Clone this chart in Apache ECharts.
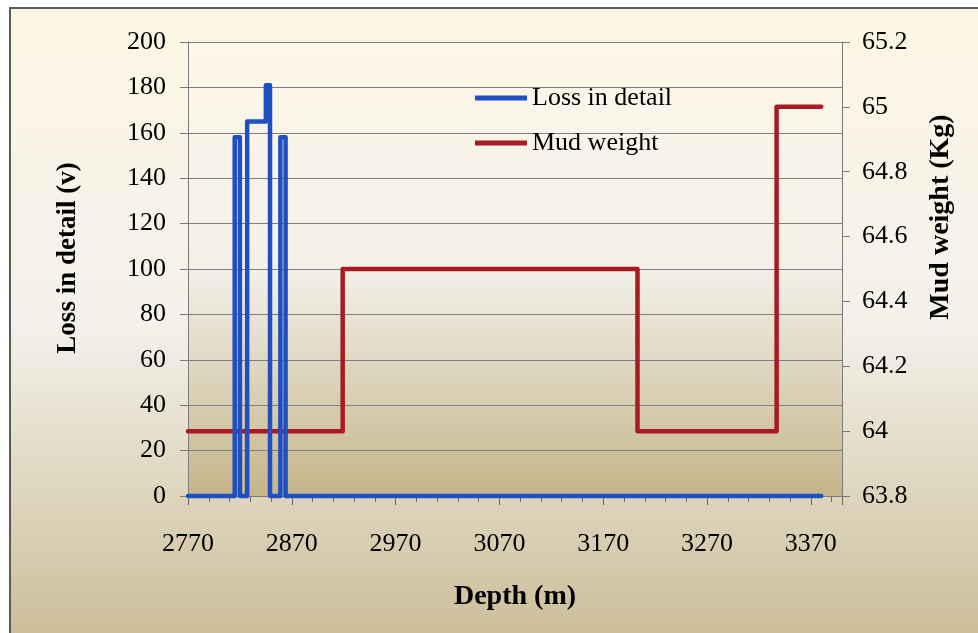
<!DOCTYPE html>
<html>
<head>
<meta charset="utf-8">
<script src="https://cdn.jsdelivr.net/npm/echarts@6/dist/echarts.min.js"></script>
<style>
html,body{margin:0;padding:0;background:#ffffff;}
#c{width:978px;height:633px;}
</style>
</head>
<body>
<div id="c"></div>
<script>
// Depth ticks / labels
const xTickLabels = [2770, 2870, 2970, 3070, 3170, 3270, 3370];
// Loss in detail (step trace)
const lossDepth = [2770, 2815, 2815, 2820, 2820, 2827, 2827, 2845, 2845, 2849, 2849, 2859, 2859, 2864, 2864, 3380];
const lossValue = [0, 0, 158, 158, 0, 0, 165, 165, 181, 181, 0, 0, 158, 158, 0, 0];
// Mud weight (step trace)
const mudDepth = [2770, 2919, 2919, 3203, 3203, 3337, 3337, 3380];
const mudValue = [64, 64, 64.5, 64.5, 64, 64, 65, 65];

const FONT = '"Liberation Serif", "Times New Roman", serif';

function pairs(xs, ys) { return xs.map((x, i) => [x, ys[i]]); }

const bgGrad = {
  type: 'linear', x: 0, y: 0, x2: 0, y2: 1,
  colorStops: [
    { offset: 0, color: '#fdf6e4' },
    { offset: 0.45, color: '#f3f1ea' },
    { offset: 1, color: '#c3b286' }
  ]
};
const plotGrad = {
  type: 'linear', x: 0, y: 0, x2: 0, y2: 1,
  colorStops: [
    { offset: 0, color: '#fdf7e8' },
    { offset: 0.5, color: '#f2f0e9' },
    { offset: 1, color: '#c5b58a' }
  ]
};

const chart = echarts.init(document.getElementById('c'), null, { renderer: 'canvas' });
chart.setOption({
  backgroundColor: '#ffffff',
  animation: false,
  graphic: [{
    type: 'rect', z: -10, silent: true,
    shape: { x: 10, y: 8, width: 1000, height: 700 },
    style: { fill: bgGrad, stroke: '#5a5a5a', lineWidth: 2 }
  }],
  grid: {
    left: 188, right: 136, top: 42, bottom: 137,
    show: true, backgroundColor: plotGrad, borderWidth: 0
  },
  legend: {
    orient: 'vertical', left: 470, top: 80, itemGap: 19,
    itemWidth: 52, itemHeight: 5, icon: 'rect',
    textStyle: { fontFamily: FONT, fontSize: 26, color: '#000' },
    data: ['Loss in detail', 'Mud weight']
  },
  xAxis: {
    type: 'value', min: 2770, max: 3400, interval: 100,
    name: 'Depth (m)', nameLocation: 'middle', nameGap: 87,
    nameTextStyle: { fontFamily: FONT, fontSize: 28, fontWeight: 'bold', color: '#000' },
    axisLine: { show: true, onZero: false, lineStyle: { color: '#7a7a7a', width: 1 } },
    axisTick: { show: true, length: 9, lineStyle: { color: '#6a6a6a' } },
    minorTick: { show: true, splitNumber: 5, length: 6, lineStyle: { color: '#6a6a6a' } },
    splitLine: { show: false },
    axisLabel: { fontFamily: FONT, fontSize: 26, color: '#000', margin: 35, showMaxLabel: false,
      formatter: v => (xTickLabels.indexOf(v) >= 0 ? String(v) : '') }
  },
  yAxis: [{
    type: 'value', min: 0, max: 200, interval: 20, position: 'left',
    name: 'Loss in detail (v)', nameLocation: 'middle', nameGap: 106, nameRotate: 90,
    nameTextStyle: { fontFamily: FONT, fontSize: 27, fontWeight: 'bold', color: '#000', padding: [0, 0, 0, 22] },
    axisLine: { show: true, lineStyle: { color: '#7a7a7a', width: 1 } },
    axisTick: { show: true, length: 8, lineStyle: { color: '#7a7a7a' } },
    splitLine: { show: true, lineStyle: { color: '#7f7f7f', width: 1 } },
    axisLabel: { fontFamily: FONT, fontSize: 26, color: '#000', margin: 22 }
  }, {
    type: 'value', min: 63.8, max: 65.2, interval: 0.2, position: 'right',
    name: 'Mud weight (Kg)', nameLocation: 'middle', nameGap: 85, nameRotate: 90,
    nameTextStyle: { fontFamily: FONT, fontSize: 28, fontWeight: 'bold', color: '#000', padding: [0, 0, 0, 104] },
    axisLine: { show: true, lineStyle: { color: '#7a7a7a', width: 1 } },
    axisTick: { show: true, length: 8, lineStyle: { color: '#7a7a7a' } },
    splitLine: { show: false },
    axisLabel: { fontFamily: FONT, fontSize: 26, color: '#000', margin: 20,
      formatter: v => String(Math.round(v * 10) / 10) }
  }],
  series: [{
    name: 'Loss in detail', type: 'line', yAxisIndex: 0, z: 4, clip: false,
    showSymbol: false, symbol: 'none',
    data: pairs(lossDepth, lossValue),
    itemStyle: { color: '#1f4fc2' },
    lineStyle: { color: '#1f4fc2', width: 4.5, cap: 'round', join: 'round' }
  }, {
    name: 'Mud weight', type: 'line', yAxisIndex: 1, z: 3, clip: false,
    showSymbol: false, symbol: 'none',
    data: pairs(mudDepth, mudValue),
    itemStyle: { color: '#a81b21' },
    lineStyle: { color: '#a81b21', width: 4.5, cap: 'round', join: 'round' }
  }]
});
</script>
</body>
</html>
